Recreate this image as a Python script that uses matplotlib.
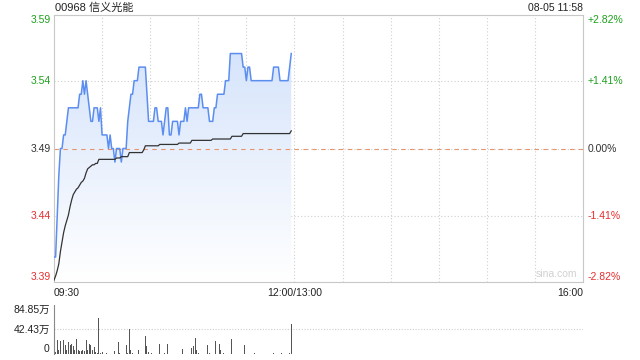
import matplotlib
matplotlib.use('Agg')
from matplotlib import pyplot as plt
from matplotlib import transforms
from matplotlib.colors import LinearSegmentedColormap
import numpy as np

plt.rcParams['font.family'] = ['Liberation Sans', 'Noto Sans CJK SC', 'DejaVu Sans']

# ---- data ----
title = '00968 信义光能'
stamp = '08-05 11:58'
prev_close = 3.49
price_ticks = [3.59, 3.54, 3.49, 3.44, 3.39]
pct_labels = ['+2.82%', '+1.41%', '0.00%', '-1.41%', '-2.82%']
vol_ticks = [84.85, 42.43, 0]
vol_labels = ['84.85万', '42.43万', '0']
time_ticks = [0, 150, 330]
time_labels = ['09:30', '12:00/13:00', '16:00']

# one value per minute, 09:30 .. 11:58
price = [
    3.41, 3.41, 3.44, 3.47, 3.49, 3.49, 3.50, 3.50, 3.51, 3.52,
    3.52, 3.52, 3.52, 3.52, 3.52, 3.52, 3.53, 3.53, 3.54, 3.53,
    3.54, 3.53, 3.52, 3.51, 3.51, 3.52, 3.52, 3.52, 3.51, 3.52,
    3.50, 3.50, 3.50, 3.50, 3.49, 3.50, 3.49, 3.49, 3.48, 3.49,
    3.49, 3.49, 3.48, 3.49, 3.49, 3.49, 3.51, 3.52, 3.53, 3.53,
    3.54, 3.54, 3.54, 3.55, 3.55, 3.55, 3.55, 3.55, 3.53, 3.51,
    3.51, 3.51, 3.51, 3.52, 3.52, 3.51, 3.51, 3.51, 3.50, 3.51,
    3.52, 3.52, 3.50, 3.50, 3.51, 3.51, 3.51, 3.51, 3.50, 3.51,
    3.51, 3.51, 3.52, 3.51, 3.52, 3.52, 3.52, 3.52, 3.52, 3.52,
    3.52, 3.53, 3.53, 3.52, 3.52, 3.52, 3.52, 3.51, 3.51, 3.51,
    3.52, 3.52, 3.53, 3.53, 3.53, 3.53, 3.53, 3.54, 3.54, 3.54,
    3.56, 3.56, 3.56, 3.56, 3.56, 3.56, 3.56, 3.56, 3.55, 3.55,
    3.54, 3.55, 3.55, 3.54, 3.54, 3.54, 3.54, 3.54, 3.54, 3.54,
    3.54, 3.54, 3.54, 3.54, 3.54, 3.54, 3.54, 3.55, 3.55, 3.55,
    3.55, 3.54, 3.54, 3.54, 3.54, 3.54, 3.54, 3.55, 3.56,
]

avg_price = [
    3.393, 3.396, 3.400, 3.405, 3.414, 3.421, 3.428, 3.433, 3.437, 3.441,
    3.447, 3.452, 3.456, 3.458, 3.460, 3.461, 3.463, 3.465, 3.466, 3.468,
    3.472, 3.475, 3.476, 3.477, 3.478, 3.478, 3.479, 3.479, 3.482, 3.482,
    3.482, 3.482, 3.482, 3.482, 3.482, 3.482, 3.482, 3.482, 3.482, 3.483,
    3.483, 3.483, 3.484, 3.484, 3.484, 3.484, 3.484, 3.487, 3.487, 3.487,
    3.487, 3.487, 3.487, 3.487, 3.487, 3.487, 3.489, 3.492, 3.492, 3.492,
    3.492, 3.492, 3.492, 3.492, 3.492, 3.492, 3.493, 3.493, 3.493, 3.493,
    3.493, 3.493, 3.493, 3.493, 3.493, 3.493, 3.493, 3.493, 3.494, 3.494,
    3.494, 3.494, 3.494, 3.494, 3.494, 3.494, 3.496, 3.496, 3.496, 3.496,
    3.496, 3.496, 3.496, 3.496, 3.496, 3.496, 3.496, 3.496, 3.496, 3.497,
    3.497, 3.497, 3.497, 3.497, 3.497, 3.497, 3.497, 3.497, 3.497, 3.497,
    3.497, 3.499, 3.499, 3.499, 3.499, 3.499, 3.499, 3.499, 3.501, 3.501,
    3.501, 3.501, 3.501, 3.501, 3.501, 3.501, 3.501, 3.501, 3.501, 3.501,
    3.501, 3.501, 3.501, 3.501, 3.501, 3.501, 3.501, 3.501, 3.501, 3.501,
    3.501, 3.501, 3.501, 3.501, 3.501, 3.501, 3.501, 3.501, 3.503,
]

# volume in 万 shares per minute
volume = [
    7.3, 3.0, 23.6, 7.3, 22.4, 14.9, 23.6, 14.9, 6.1, 20.7,
    14.9, 17.8, 13.1, 6.1, 26.5, 7.3, 5.0, 5.0, 6.1, 5.0,
    24.8, 7.3, 17.8, 14.9, 7.3, 12.0, 3.2, 1.5, 61.5, 1.0,
    3.2, 0.5, 0.5, 1.5, 0.5, 0.3, 0.3, 0.5, 4.4, 0.5,
    20.7, 1.5, 0.5, 0.5, 0.5, 14.9, 1.5, 44.0, 7.3, 1.5,
    0.5, 0.5, 0.3, 6.1, 0.5, 0.3, 0.5, 30.6, 13.1, 3.2,
    0.5, 1.5, 0.3, 0.5, 0.5, 0.3, 17.8, 0.5, 0.3, 1.5,
    0.3, 17.8, 0.3, 0.5, 0.3, 0.5, 0.3, 0.5, 0.3, 0.5,
    9.0, 0.3, 0.3, 0.5, 0.3, 0.5, 10.8, 13.1, 28.3, 7.3,
    1.5, 0.5, 0.3, 0.3, 0.5, 0.3, 14.9, 1.5, 0.3, 0.5,
    0.3, 21.9, 0.5, 16.6, 6.1, 0.3, 1.5, 0.5, 0.3, 0.5,
    0.3, 26.5, 0.5, 0.3, 0.5, 0.3, 0.5, 0.3, 0.5, 14.9,
    0.3, 0.5, 0.8, 0.3, 0.5, 1.0, 0.3, 0.5, 0.8, 0.3,
    0.5, 1.0, 0.5, 0.3, 0.8, 0.5, 0.3, 1.0, 0.5, 0.3,
    0.8, 0.5, 1.0, 0.3, 0.5, 0.8, 0.5, 1.0, 51.6,
]

minutes = np.arange(len(price))

green = '#1ba01b'
red = '#e62e2e'
grid_c = '#cfcfcf'

fig = plt.figure(figsize=(6.4, 3.6), dpi=100)
ax = fig.add_axes([54 / 640, 1 - 282 / 360, 529 / 640, 267 / 360])
axv = fig.add_axes([54 / 640, 1 - 354 / 360, 529 / 640, 49 / 360])

ylo = prev_close * (1 - 0.0282)
yhi = prev_close * (1 + 0.0282)

# gradient fill under the price line
poly = ax.fill_between(minutes, price, ylo, color='none', lw=0)
cmap = LinearSegmentedColormap.from_list('fade', ['#ffffff', '#d6e4fb'])
grad = np.linspace(0, 1, 256).reshape(-1, 1)
img = ax.imshow(grad, extent=[0, minutes[-1], ylo, max(price)], origin='lower',
                aspect='auto', cmap=cmap, zorder=1)
img.set_clip_path(poly.get_paths()[0], transform=ax.transData)

ax.plot(minutes, price, color='#5b8ef0', lw=1.1, zorder=3)
ax.plot(minutes, avg_price, color='#333333', lw=0.9, zorder=4)

# grid
for t in range(30, 330, 30):
    ax.axvline(t, color=grid_c, lw=0.8, ls=(0, (1, 2)), zorder=0.5)
for p in [3.54, prev_close, 3.44]:
    ax.axhline(p, color=grid_c, lw=0.8, ls=(0, (1, 2)), zorder=0.5)
ax.axhline(prev_close, color='#e8956c', lw=0.8, ls=(0, (4, 4)), zorder=2)

ax.set_xlim(0, 330)
ax.set_ylim(ylo, yhi)
ax.set_xticks([])
ax.set_yticks([])
for s in ax.spines.values():
    s.set_color('#c8c8c8')
    s.set_linewidth(0.8)

# price labels (left) and percent labels (right)
tr = transforms.blended_transform_factory(ax.transAxes, ax.transData)
colors = [green, green, '#333333', red, red]
vas = ['top', 'center', 'center', 'center', 'bottom']
ypos = [yhi, 3.54, prev_close, 3.44, ylo]
for yp, lab, pl, c, va in zip(ypos, price_ticks, pct_labels, colors, vas):
    ax.text(-0.006, yp, f'{lab:.2f}', transform=tr, ha='right', va=va,
            color=c, fontsize=7.5)
    ax.text(1.008, yp, pl, transform=tr, ha='left', va=va, color=c, fontsize=7.5)

# time labels
trx = transforms.blended_transform_factory(ax.transData, ax.transAxes)
for t, lab, ha in zip(time_ticks, time_labels, ['left', 'center', 'right']):
    ax.text(t, -0.022, lab, transform=trx, ha=ha, va='top', fontsize=7.5,
            color='#222222')

ax.text(0.99, 0.012, 'sina.com', transform=ax.transAxes, ha='right', va='bottom',
        fontsize=7.5, color='#d0d0d0')

fig.text(55 / 640, 1 - 3 / 360, title, ha='left', va='top', fontsize=8, color='#222222')
fig.text(583 / 640, 1 - 3 / 360, stamp, ha='right', va='top', fontsize=7.5, color='#222222')

# volume panel
axv.bar(minutes, volume, width=0.6, color='#555555', zorder=2)
axv.axhline(vol_ticks[1], color=grid_c, lw=0.8, ls=(0, (1, 1.5)), zorder=0.5)
axv.set_xlim(0, 330)
axv.set_ylim(0, vol_ticks[0])
axv.set_xticks([])
axv.set_yticks([])
for k in ['top', 'right', 'bottom']:
    axv.spines[k].set_visible(False)
axv.spines['left'].set_color('#888888')
axv.spines['left'].set_linewidth(0.8)
trv = transforms.blended_transform_factory(axv.transAxes, axv.transData)
for v, lab, va in zip(vol_ticks, vol_labels, ['top', 'center', 'bottom']):
    axv.text(-0.008, v, lab, transform=trv, ha='right', va=va, fontsize=7.5,
             color='#222222')

fig.savefig('out.png', dpi=100)
